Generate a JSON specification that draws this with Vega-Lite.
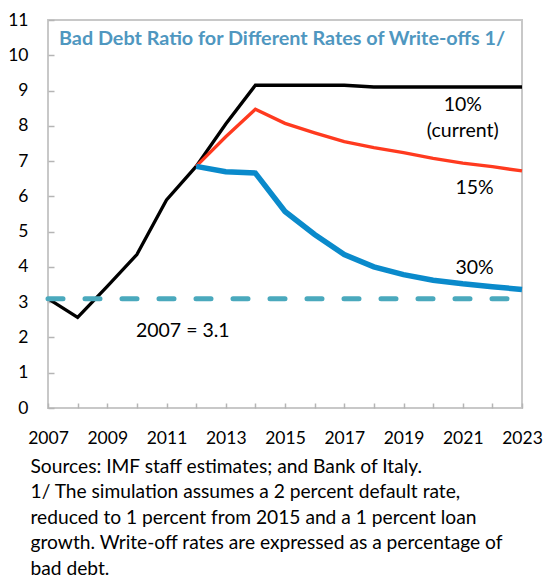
{
  "$schema": "https://vega.github.io/schema/vega-lite/v6.json",
  "autosize": {"type": "none"},
  "width": 474,
  "height": 388,
  "padding": {"left": 48, "top": 20, "right": 23, "bottom": 170},
  "background": "white",
  "config": {
    "font": "Lato",
    "view": {"stroke": "#c8c8c8", "strokeWidth": 2},
    "axis": {"grid": false, "domain": false, "tickColor": "#b5b5b5", "tickWidth": 1.5, "labelColor": "#000", "labelFontSize": 17.5, "labelFont": "Lato", "labelOverlap": false}
  },
  "title": {
    "text": "Bad Debt Ratio for Different Rates of Write-offs 1/",
    "anchor": "start",
    "frame": "group",
    "orient": "top",
    "offset": -38,
    "dx": 11,
    "fontSize": 19.8,
    "fontWeight": "bold",
    "color": "#4f97c0",
    "font": "Lato"
  },
  "datasets": {
    "lines": [
      {"year": 2007, "value": 3.1, "series": "10%"},
      {"year": 2008, "value": 2.57, "series": "10%"},
      {"year": 2009, "value": 3.45, "series": "10%"},
      {"year": 2010, "value": 4.35, "series": "10%"},
      {"year": 2011, "value": 5.9, "series": "10%"},
      {"year": 2012, "value": 6.85, "series": "10%"},
      {"year": 2013, "value": 8.05, "series": "10%"},
      {"year": 2014, "value": 9.15, "series": "10%"},
      {"year": 2015, "value": 9.15, "series": "10%"},
      {"year": 2016, "value": 9.15, "series": "10%"},
      {"year": 2017, "value": 9.15, "series": "10%"},
      {"year": 2018, "value": 9.1, "series": "10%"},
      {"year": 2019, "value": 9.1, "series": "10%"},
      {"year": 2020, "value": 9.1, "series": "10%"},
      {"year": 2021, "value": 9.1, "series": "10%"},
      {"year": 2022, "value": 9.1, "series": "10%"},
      {"year": 2023, "value": 9.1, "series": "10%"},
      {"year": 2012, "value": 6.85, "series": "15%"},
      {"year": 2013, "value": 7.69, "series": "15%"},
      {"year": 2014, "value": 8.47, "series": "15%"},
      {"year": 2015, "value": 8.07, "series": "15%"},
      {"year": 2016, "value": 7.8, "series": "15%"},
      {"year": 2017, "value": 7.55, "series": "15%"},
      {"year": 2018, "value": 7.38, "series": "15%"},
      {"year": 2019, "value": 7.24, "series": "15%"},
      {"year": 2020, "value": 7.08, "series": "15%"},
      {"year": 2021, "value": 6.94, "series": "15%"},
      {"year": 2022, "value": 6.84, "series": "15%"},
      {"year": 2023, "value": 6.72, "series": "15%"},
      {"year": 2012, "value": 6.85, "series": "30%"},
      {"year": 2013, "value": 6.7, "series": "30%"},
      {"year": 2014, "value": 6.66, "series": "30%"},
      {"year": 2015, "value": 5.57, "series": "30%"},
      {"year": 2016, "value": 4.92, "series": "30%"},
      {"year": 2017, "value": 4.35, "series": "30%"},
      {"year": 2018, "value": 4.0, "series": "30%"},
      {"year": 2019, "value": 3.78, "series": "30%"},
      {"year": 2020, "value": 3.62, "series": "30%"},
      {"year": 2021, "value": 3.52, "series": "30%"},
      {"year": 2022, "value": 3.44, "series": "30%"},
      {"year": 2023, "value": 3.36, "series": "30%"}
    ],
    "baseline": [
      {"year": 2007, "value": 3.1},
      {"year": 2023, "value": 3.1}
    ],
    "labels": [
      {"year": 2021, "value": 8.59, "text": "10%"},
      {"year": 2021, "value": 7.86, "text": "(current)"},
      {"year": 2021.4, "value": 6.24, "text": "15%"},
      {"year": 2021.4, "value": 3.98, "text": "30%"},
      {"year": 2011.55, "value": 2.18, "text": "2007 = 3.1"}
    ]
  },
  "encoding": {
    "x": {
      "field": "year", "type": "quantitative",
      "scale": {"domain": [2007, 2023], "nice": false, "zero": false},
      "axis": {
        "values": [2007, 2008, 2009, 2010, 2011, 2012, 2013, 2014, 2015, 2016, 2017, 2018, 2019, 2020, 2021, 2022, 2023],
        "tickCount": 17,
        "format": "d",
        "labelExpr": "datum.value % 2 == 1 ? datum.label : ''",
        "labelOverlap": false,
        "offset": -5,
        "tickSize": 5,
        "labelPadding": 21,
        "labelFlush": false,
        "title": [
          "Sources: IMF staff estimates; and Bank of Italy.",
          "1/ The simulation assumes a 2 percent default rate,",
          "reduced to 1 percent from 2015 and a 1 percent loan",
          "growth. Write-off rates are expressed as a percentage of",
          "bad debt."
        ],
        "titleFont": "Lato",
        "titleFontSize": 19.2,
        "titleFontWeight": "normal",
        "titleColor": "#000",
        "titleAnchor": "start",
        "titleAlign": "left",
        "titleBaseline": "alphabetic",
        "titleX": -18,
        "titleY": 69,
        "titleLineHeight": 25.5
      }
    },
    "y": {
      "field": "value", "type": "quantitative",
      "scale": {"domain": [0, 11], "nice": false},
      "axis": {
        "values": [0, 1, 2, 3, 4, 5, 6, 7, 8, 9, 10, 11],
        "tickCount": 12,
        "labelOverlap": false,
        "labelBound": false,
        "labelFlush": false,
        "offset": -6,
        "tickSize": 6,
        "labelPadding": 20,
        "title": null
      }
    }
  },
  "layer": [
    {
      "data": {"name": "lines"},
      "mark": {"type": "line", "strokeJoin": "miter"},
      "encoding": {
        "color": {
          "field": "series", "type": "nominal",
          "scale": {"domain": ["10%", "15%", "30%"], "range": ["#000000", "#ff3a1f", "#0a8acb"]},
          "legend": null
        },
        "strokeWidth": {
          "condition": {"test": "datum.series == '30%'", "value": 5.5},
          "value": 3.3
        }
      }
    },
    {
      "data": {"name": "baseline"},
      "mark": {"type": "line", "color": "#4aa9bd", "strokeWidth": 5, "strokeDash": [15, 22], "strokeCap": "round"},
      "encoding": {}
    },
    {
      "data": {"name": "labels"},
      "mark": {"type": "text", "fontSize": 19.5, "font": "Lato", "color": "#000", "align": "center", "baseline": "middle"},
      "encoding": {
        "text": {"field": "text", "type": "nominal"}
      }
    }
  ]
}
